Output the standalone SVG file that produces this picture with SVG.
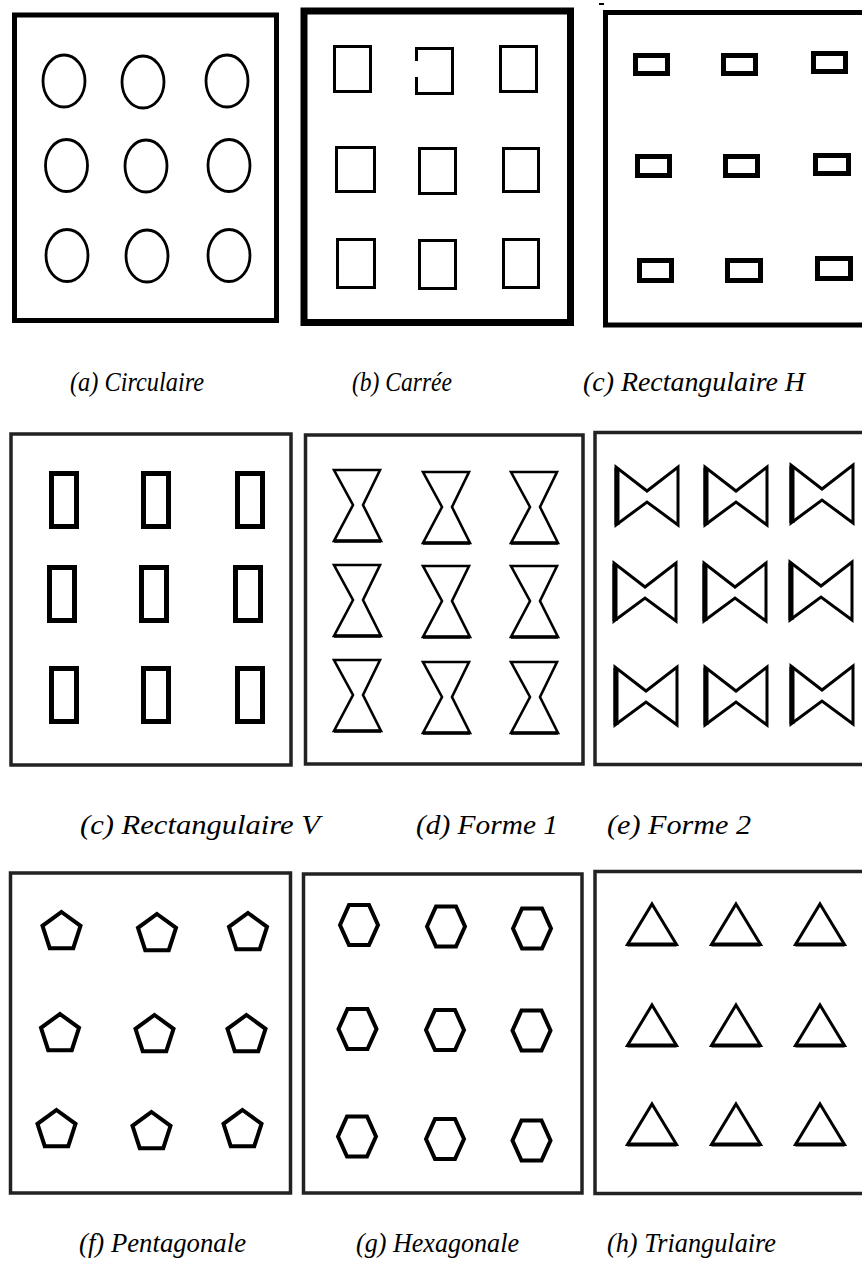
<svg xmlns="http://www.w3.org/2000/svg" xmlns:xlink="http://www.w3.org/1999/xlink" width="862" height="1277" viewBox="0 0 862 1277">
<style>
.bg{fill:#fff}
.frame1{fill:none;stroke:#000;stroke-width:5}
.frame2{fill:none;stroke:#222;stroke-width:3.5}
.sh{fill:none;stroke:#000;stroke-linejoin:miter}
.lbl{font-family:"Liberation Serif","Times New Roman",serif;font-style:italic;font-size:28px;fill:#000}
</style>
<defs>
<g id="hg" class="sh">
<path d="M1,1 L47,1 L30,36 L48,72 L1,72 L20,36 Z" stroke-width="2.6"/>
<line x1="1" y1="72" x2="48" y2="72" stroke-width="3.5"/>
</g>
<g id="bt" class="sh">
<path d="M2,0 L2,58 L33,35 L64,58 L64,0 L33,24 Z" stroke-width="3"/>
<line x1="3" y1="1" x2="3" y2="58" stroke-width="5"/>
</g>
<polygon id="pg" points="0,-20 19.02,-6.18 11.76,16.18 -11.76,16.18 -19.02,-6.18" class="sh" stroke-width="4"/>
<path id="hx" d="M-19,0 L-10,-20 L10,-20 L19,0 L10,20 L-10,20 Z" class="sh" stroke-width="4"/>
<g id="tr" class="sh">
<path d="M0,2 L24.5,42.5 L-24.5,42.5 Z" stroke-width="3"/>
<line x1="-24.5" y1="42.5" x2="24.5" y2="42.5" stroke-width="4"/>
</g>
</defs>
<rect class="bg" x="0" y="0" width="862" height="1277"/>

<g id="panel-a">
<rect class="frame1" x="14.5" y="15" width="262" height="305.5"/>
<g class="sh" stroke-width="2.8">
<ellipse cx="64" cy="81" rx="21" ry="26"/>
<ellipse cx="143" cy="82" rx="21" ry="26"/>
<ellipse cx="227" cy="81" rx="21" ry="26"/>
<ellipse cx="66.5" cy="165.5" rx="21" ry="26"/>
<ellipse cx="146" cy="166" rx="21" ry="26"/>
<ellipse cx="229" cy="165.5" rx="21" ry="26"/>
<ellipse cx="67" cy="255.5" rx="21" ry="26"/>
<ellipse cx="147" cy="256" rx="21" ry="26"/>
<ellipse cx="229" cy="255.5" rx="21" ry="26"/>
</g>
<text class="lbl" x="70" y="391" textLength="134" lengthAdjust="spacingAndGlyphs">(a) Circulaire</text>
</g>

<g id="panel-b">
<rect fill="none" stroke="#000" stroke-width="7" x="304" y="11" width="266.5" height="311.5"/>
<g class="sh" stroke-width="3">
<rect x="334.5" y="46.5" width="36" height="45"/>
<path d="M416.5,61 V48.5 H452.5 V93.5 H416.5 V77"/>
<rect x="500.5" y="46.5" width="36" height="45"/>
<rect x="336.5" y="147.5" width="38" height="44"/>
<rect x="419.5" y="148.5" width="36" height="45"/>
<rect x="503.5" y="148.5" width="35" height="43"/>
<rect x="337.5" y="239.5" width="37" height="48"/>
<rect x="419.5" y="240.5" width="36" height="48"/>
<rect x="503.5" y="239.5" width="35" height="48"/>
</g>
<text class="lbl" x="352" y="391" textLength="100" lengthAdjust="spacingAndGlyphs">(b) Carrée</text>
</g>

<g id="panel-c-h">
<line x1="599" y1="4" x2="604" y2="4" stroke="#000" stroke-width="2"/>
<rect class="frame1" x="605.5" y="12.5" width="270" height="312.5"/>
<g class="sh" stroke-width="5">
<rect x="635.5" y="55.5" width="32" height="18"/>
<rect x="723.5" y="55.5" width="32" height="18"/>
<rect x="813.5" y="53.5" width="32" height="18"/>
<rect x="637.5" y="156.5" width="32" height="19"/>
<rect x="725.5" y="156.5" width="32" height="19"/>
<rect x="815.5" y="155.5" width="33" height="18"/>
<rect x="639.5" y="260.5" width="32" height="20"/>
<rect x="727.5" y="260.5" width="33" height="20"/>
<rect x="817.5" y="258.5" width="33" height="20"/>
</g>
<text class="lbl" x="583" y="391" textLength="222" lengthAdjust="spacingAndGlyphs">(c) Rectangulaire H</text>
</g>

<g id="panel-c-v">
<rect class="frame2" x="11" y="434" width="280" height="331"/>
<g class="sh" stroke-width="5">
<rect x="51.5" y="473.5" width="25" height="53"/>
<rect x="143.5" y="473.5" width="25" height="53"/>
<rect x="237.5" y="473.5" width="25" height="53"/>
<rect x="49.5" y="567.5" width="25" height="53"/>
<rect x="141.5" y="567.5" width="25" height="53"/>
<rect x="235.5" y="567.5" width="25" height="53"/>
<rect x="51.5" y="668.5" width="25" height="53"/>
<rect x="143.5" y="668.5" width="25" height="53"/>
<rect x="237.5" y="668.5" width="25" height="53"/>
</g>
<text class="lbl" x="80" y="834" textLength="240" lengthAdjust="spacingAndGlyphs">(c) Rectangulaire V</text>
</g>

<g id="panel-d">
<rect class="frame2" x="305.5" y="435" width="277.5" height="329"/>
<use xlink:href="#hg" x="333" y="469"/>
<use xlink:href="#hg" x="422" y="471"/>
<use xlink:href="#hg" x="510" y="471"/>
<use xlink:href="#hg" x="333" y="564"/>
<use xlink:href="#hg" x="422" y="565"/>
<use xlink:href="#hg" x="510" y="565"/>
<use xlink:href="#hg" x="333" y="659"/>
<use xlink:href="#hg" x="422" y="661"/>
<use xlink:href="#hg" x="510" y="661"/>
<text class="lbl" x="416" y="834" textLength="142" lengthAdjust="spacingAndGlyphs">(d) Forme 1</text>
</g>

<g id="panel-e">
<rect class="frame2" x="595" y="432.5" width="280" height="332"/>
<use xlink:href="#bt" x="614" y="467"/>
<use xlink:href="#bt" x="703" y="467"/>
<use xlink:href="#bt" x="789" y="465"/>
<use xlink:href="#bt" x="612" y="563"/>
<use xlink:href="#bt" x="702" y="563"/>
<use xlink:href="#bt" x="788" y="562"/>
<use xlink:href="#bt" x="613" y="667"/>
<use xlink:href="#bt" x="703" y="667"/>
<use xlink:href="#bt" x="789" y="666"/>
<text class="lbl" x="607" y="834" textLength="144" lengthAdjust="spacingAndGlyphs">(e) Forme 2</text>
</g>

<g id="panel-f">
<rect class="frame2" x="10.5" y="873" width="280" height="320"/>
<use xlink:href="#pg" x="61.5" y="932"/>
<use xlink:href="#pg" x="157" y="934"/>
<use xlink:href="#pg" x="248" y="933"/>
<use xlink:href="#pg" x="60" y="1034"/>
<use xlink:href="#pg" x="154.5" y="1035"/>
<use xlink:href="#pg" x="246.5" y="1035"/>
<use xlink:href="#pg" x="56.5" y="1130"/>
<use xlink:href="#pg" x="151.5" y="1132"/>
<use xlink:href="#pg" x="242.5" y="1130"/>
<text class="lbl" x="79" y="1252" textLength="167" lengthAdjust="spacingAndGlyphs">(f) Pentagonale</text>
</g>

<g id="panel-g">
<rect class="frame2" x="303.5" y="874" width="278.5" height="319"/>
<use xlink:href="#hx" x="359" y="925"/>
<use xlink:href="#hx" x="446" y="926.5"/>
<use xlink:href="#hx" x="532" y="928.5"/>
<use xlink:href="#hx" x="357.5" y="1029"/>
<use xlink:href="#hx" x="445" y="1030"/>
<use xlink:href="#hx" x="531.5" y="1030.5"/>
<use xlink:href="#hx" x="357" y="1136.5"/>
<use xlink:href="#hx" x="445" y="1139"/>
<use xlink:href="#hx" x="531.5" y="1140.5"/>
<text class="lbl" x="356" y="1252" textLength="163" lengthAdjust="spacingAndGlyphs">(g) Hexagonale</text>
</g>

<g id="panel-h">
<rect class="frame2" x="595" y="871.5" width="280" height="322"/>
<use xlink:href="#tr" x="652" y="902"/>
<use xlink:href="#tr" x="736" y="902"/>
<use xlink:href="#tr" x="820" y="902"/>
<use xlink:href="#tr" x="652" y="1003"/>
<use xlink:href="#tr" x="736" y="1003"/>
<use xlink:href="#tr" x="820" y="1003"/>
<use xlink:href="#tr" x="652" y="1102"/>
<use xlink:href="#tr" x="736" y="1102"/>
<use xlink:href="#tr" x="820" y="1102"/>
<text class="lbl" x="607" y="1252" textLength="169" lengthAdjust="spacingAndGlyphs">(h) Triangulaire</text>
</g>

<g id="connectors"/>
</svg>
